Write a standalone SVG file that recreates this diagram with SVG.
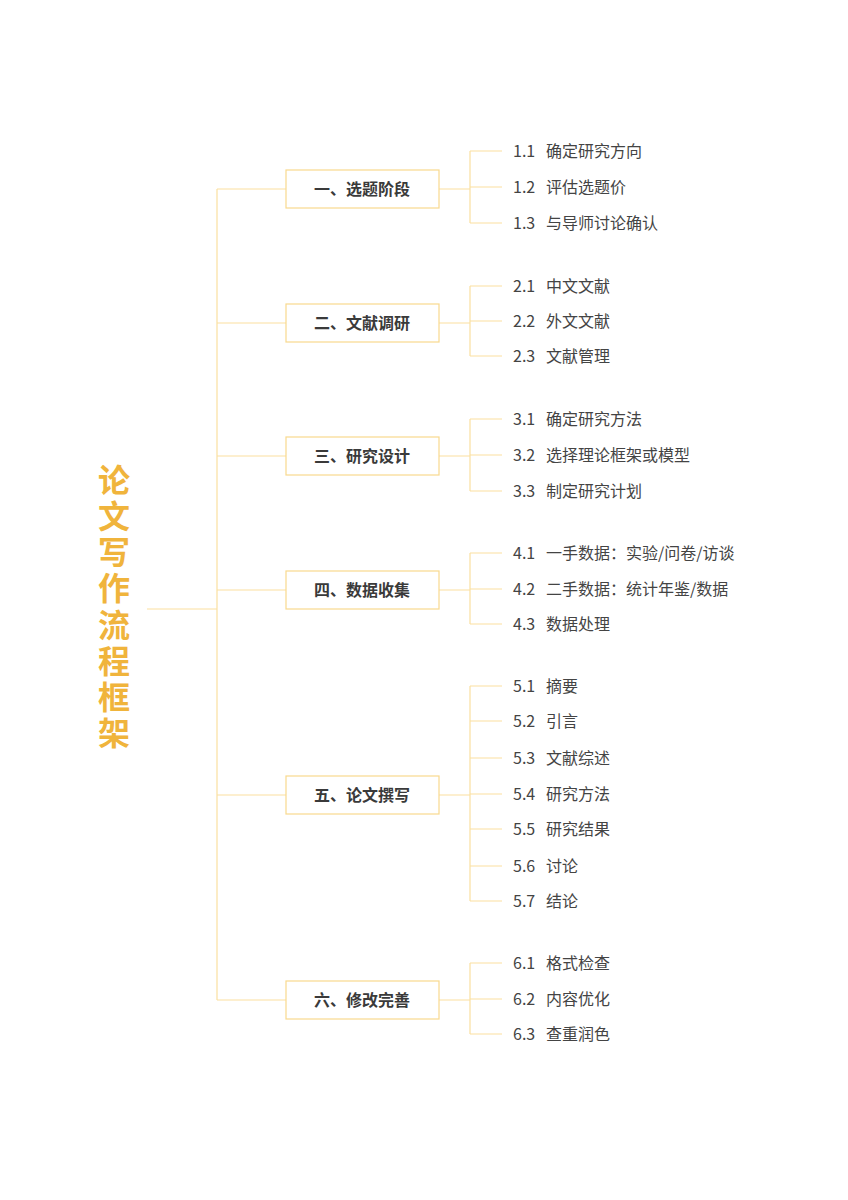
<svg xmlns="http://www.w3.org/2000/svg" width="848" height="1200" viewBox="0 0 848 1200">
<style>
.l{stroke:#FBE0A0;stroke-width:1.2;fill:none}
.b{fill:#fff;stroke:#F8D98E;stroke-width:1.2}
.n{font-family:"Noto Sans CJK SC",sans-serif;font-size:16px;font-weight:bold;fill:#3a3a3a;text-anchor:middle;dominant-baseline:central}
.c{font-family:"Noto Sans CJK SC",sans-serif;font-size:16px;fill:#444;dominant-baseline:central}
.t{font-family:"Noto Sans CJK SC",sans-serif;font-size:32px;font-weight:bold;fill:#F0B43C;text-anchor:middle;dominant-baseline:central}
</style>
<rect width="848" height="1200" fill="#fff"/>
<g id="title">
<text class="t" x="114" y="478">论</text><text class="t" x="114" y="514">文</text><text class="t" x="114" y="550">写</text><text class="t" x="114" y="586">作</text><text class="t" x="114" y="623">流</text><text class="t" x="114" y="659">程</text><text class="t" x="114" y="695">框</text><text class="t" x="114" y="731">架</text>
</g>
<g id="connectors">
<path class="l" d="M147 609H217M217 189V1000M217 189H286M217 323H286M217 456H286M217 590H286M217 795H286M217 1000H286"/>
<path class="l" stroke-width="2" d="M439 189H470M439 323H470M439 456H470M439 590H470M439 795H470M439 1000H470"/>
<path class="l" d="M470 151V223M470 151H502M470 187H502M470 223H502"/>
<path class="l" d="M470 286V356M470 286H502M470 321H502M470 356H502"/>
<path class="l" d="M470 419V491M470 419H502M470 455H502M470 491H502"/>
<path class="l" d="M470 553V624M470 553H502M470 589H502M470 624H502"/>
<path class="l" d="M470 686V901M470 686H502M470 721H502M470 758H502M470 794H502M470 829H502M470 866H502M470 901H502"/>
<path class="l" d="M470 963V1034M470 963H502M470 999H502M470 1034H502"/>
</g>
<g id="n1"><rect class="b" x="286" y="170" width="153" height="38"/><text class="n" x="362" y="188">一、选题阶段</text></g>
<g id="n2"><rect class="b" x="286" y="304" width="153" height="38"/><text class="n" x="362" y="322">二、文献调研</text></g>
<g id="n3"><rect class="b" x="286" y="437" width="153" height="38"/><text class="n" x="362" y="455">三、研究设计</text></g>
<g id="n4"><rect class="b" x="286" y="571" width="153" height="38"/><text class="n" x="362" y="589">四、数据收集</text></g>
<g id="n5"><rect class="b" x="286" y="776" width="153" height="38"/><text class="n" x="362" y="794">五、论文撰写</text></g>
<g id="n6"><rect class="b" x="286" y="981" width="153" height="38"/><text class="n" x="362" y="999">六、修改完善</text></g>
<g id="leaves">
<text class="c" y="150"><tspan x="513">1.1</tspan><tspan x="546">确定研究方向</tspan></text>
<text class="c" y="186"><tspan x="513">1.2</tspan><tspan x="546">评估选题价</tspan></text>
<text class="c" y="222"><tspan x="513">1.3</tspan><tspan x="546">与导师讨论确认</tspan></text>
<text class="c" y="285"><tspan x="513">2.1</tspan><tspan x="546">中文文献</tspan></text>
<text class="c" y="320"><tspan x="513">2.2</tspan><tspan x="546">外文文献</tspan></text>
<text class="c" y="355"><tspan x="513">2.3</tspan><tspan x="546">文献管理</tspan></text>
<text class="c" y="418"><tspan x="513">3.1</tspan><tspan x="546">确定研究方法</tspan></text>
<text class="c" y="454"><tspan x="513">3.2</tspan><tspan x="546">选择理论框架或模型</tspan></text>
<text class="c" y="490"><tspan x="513">3.3</tspan><tspan x="546">制定研究计划</tspan></text>
<text class="c" y="552"><tspan x="513">4.1</tspan><tspan x="546">一手数据：实验/问卷/访谈</tspan></text>
<text class="c" y="588"><tspan x="513">4.2</tspan><tspan x="546">二手数据：统计年鉴/数据</tspan></text>
<text class="c" y="623"><tspan x="513">4.3</tspan><tspan x="546">数据处理</tspan></text>
<text class="c" y="685"><tspan x="513">5.1</tspan><tspan x="546">摘要</tspan></text>
<text class="c" y="720"><tspan x="513">5.2</tspan><tspan x="546">引言</tspan></text>
<text class="c" y="757"><tspan x="513">5.3</tspan><tspan x="546">文献综述</tspan></text>
<text class="c" y="793"><tspan x="513">5.4</tspan><tspan x="546">研究方法</tspan></text>
<text class="c" y="828"><tspan x="513">5.5</tspan><tspan x="546">研究结果</tspan></text>
<text class="c" y="865"><tspan x="513">5.6</tspan><tspan x="546">讨论</tspan></text>
<text class="c" y="900"><tspan x="513">5.7</tspan><tspan x="546">结论</tspan></text>
<text class="c" y="962"><tspan x="513">6.1</tspan><tspan x="546">格式检查</tspan></text>
<text class="c" y="998"><tspan x="513">6.2</tspan><tspan x="546">内容优化</tspan></text>
<text class="c" y="1033"><tspan x="513">6.3</tspan><tspan x="546">查重润色</tspan></text>
</g>
</svg>
